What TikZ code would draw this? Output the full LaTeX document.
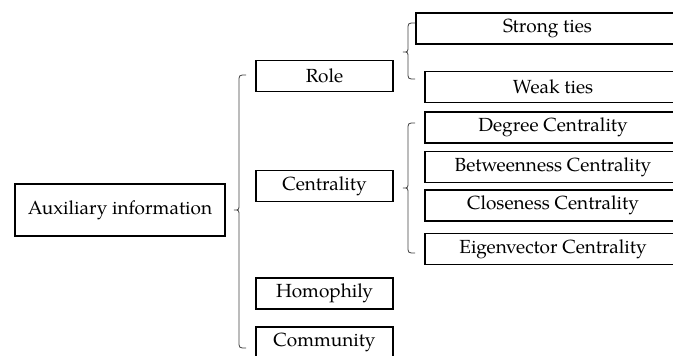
\documentclass[tikz,border=0pt]{standalone}
\usepackage{fontspec}
\setmainfont{texgyrepagella-regular.otf}
\begin{document}
\begin{tikzpicture}[x=1pt,y=-1pt,
  box/.style={draw=black, line width=1.3pt, inner sep=0pt, minimum height=31pt,
    font=\fontsize{19}{22}\selectfont, text=black},
  midbox/.style={box, minimum width=137pt},
  rbox/.style={box, minimum width=256pt},
  bracepath/.style={draw=black!75, line width=0.8pt}]
\useasboundingbox (0,0) rectangle (673,356);
\clip (0,0) rectangle (673,356);
% main node
\node[box, minimum width=210pt, minimum height=52pt] (aux) at (120,210) {Auxiliary information};
% second level
\node[midbox] (role) at (324.5,76) {Role};
\node[midbox] (cent) at (324.5,186) {Centrality};
\node[midbox] (homo) at (324.5,293.5) {Homophily};
\node[midbox] (comm) at (324.5,342.5) {Community};
% third level
\node[box, minimum width=263pt] (strong) at (547.5,28.5) {Strong ties};
\node[rbox] (weak) at (553,87) {Weak ties};
\node[rbox] (deg) at (553,127.5) {Degree Centrality};
\node[rbox] (betw) at (553,167) {Betweenness Centrality};
\node[rbox] (clos) at (553,205.5) {Closeness Centrality};
\node[rbox] (eig) at (553,249) {Eigenvector Centrality};
% braces
\newcommand{\mybrace}[4]{% tip x, top, mid, bottom
  \path[bracepath] (#1+12,#2) .. controls (#1+5,#2) .. (#1+5,#2+7)
    -- (#1+5,#3-6) .. controls (#1+5,#3) .. (#1,#3)
    .. controls (#1+5,#3) .. (#1+5,#3+6)
    -- (#1+5,#4-7) .. controls (#1+5,#4) .. (#1+12,#4);}
\mybrace{234}{75}{210}{348}
\mybrace{403}{23}{52}{79}
\mybrace{403}{123}{188}{253}
\end{tikzpicture}
\end{document}
